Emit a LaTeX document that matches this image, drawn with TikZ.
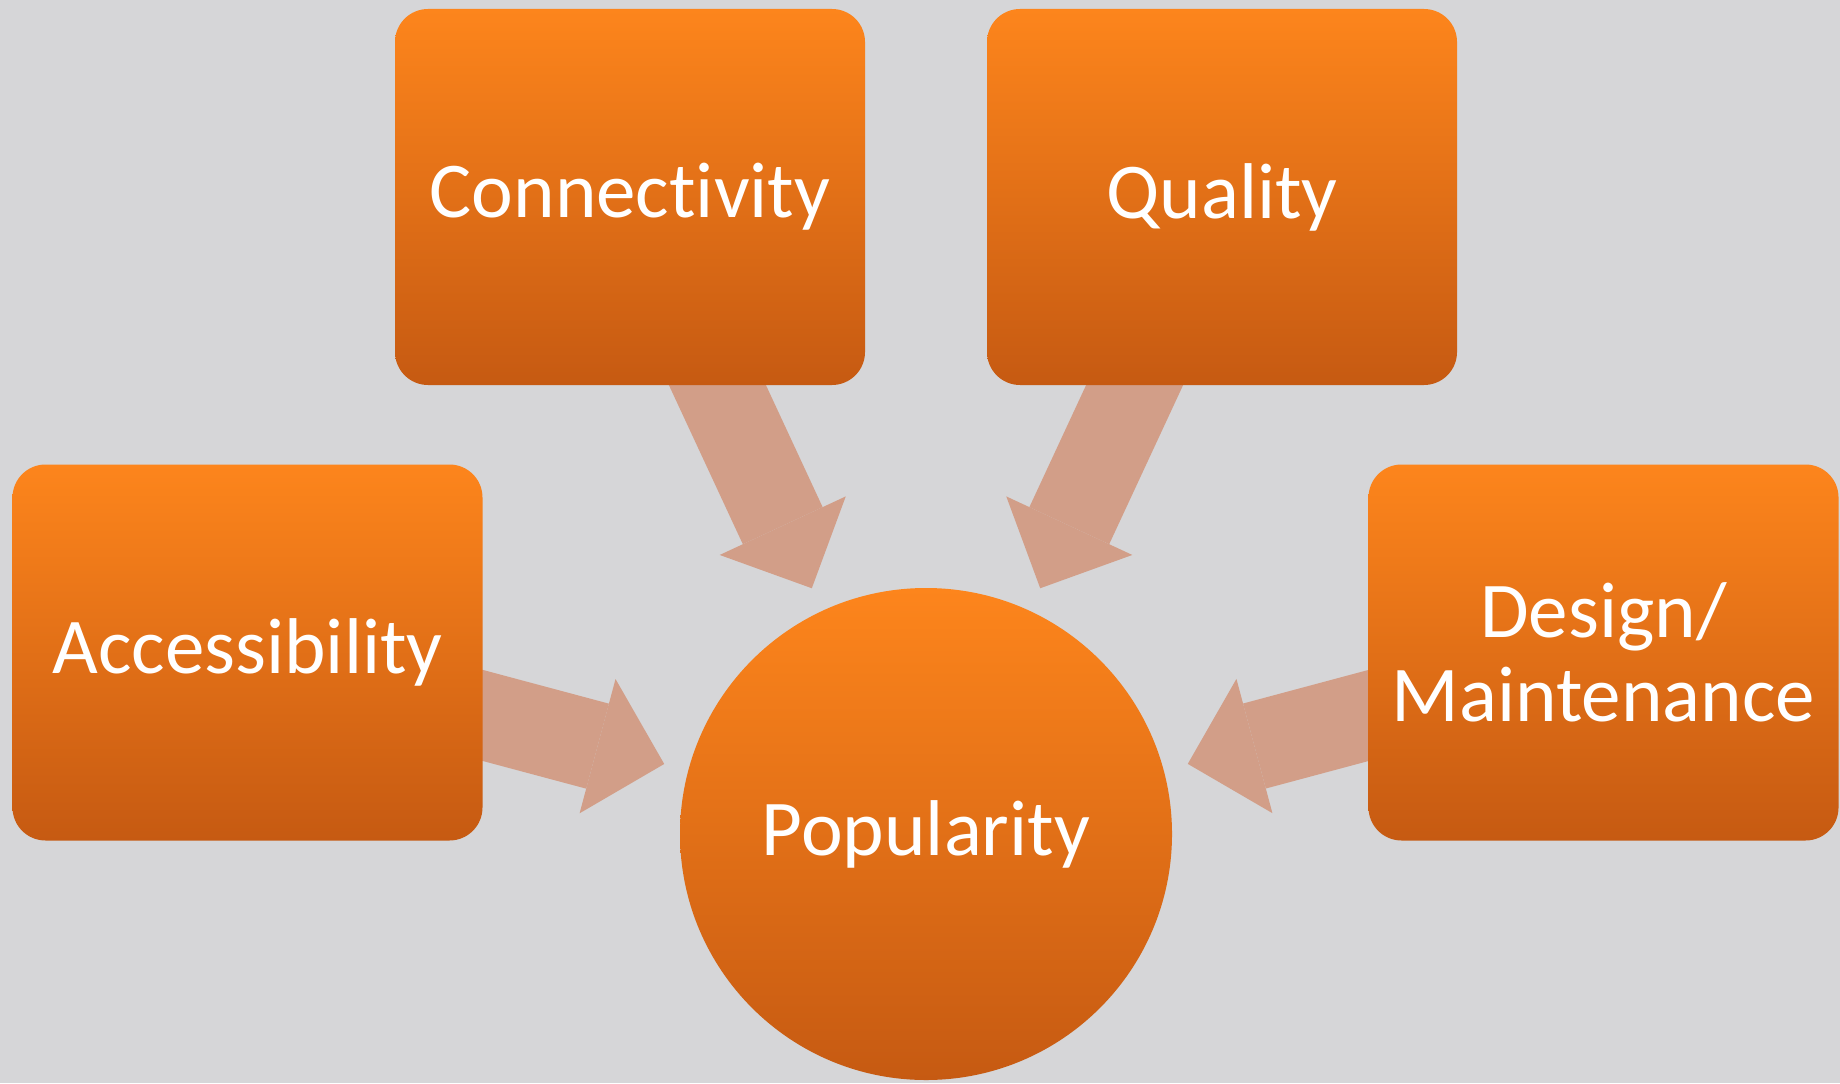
\documentclass[tikz,border=0pt]{standalone}
\usepackage{fontspec}
\setmainfont{Carlito}[Ligatures=NoCommon]
\usetikzlibrary{arrows.meta, backgrounds}
\definecolor{bggray}{RGB}{214,214,216}
\definecolor{orangetop}{RGB}{253,133,28}
\definecolor{orangebot}{RGB}{198,90,18}
\definecolor{arrowpink}{RGB}{210,158,136}
\def\frame{(0,0) rectangle (18.4,-10.83)}

\begin{document}
\begin{tikzpicture}[
	factor/.style={rounded corners=3.3mm, top color=orangetop, bottom color=orangebot,
		minimum width=4.7cm, minimum height=3.76cm, inner sep=0pt, text=white,
		align=center, font=\fontsize{22.5}{24}\selectfont},
	hub/.style={circle, top color=orangetop, bottom color=orangebot,
		minimum size=4.92cm, inner sep=0pt, text=white, font=\fontsize{22.5}{24}\selectfont},
	push/.style={draw=arrowpink, line width=8.8mm, shorten >=27.1mm,
		-{Triangle[length=6.9mm, width=13.9mm, line width=0pt]}}]
	\useasboundingbox \frame;
	\node [hub] (pop) at (9.26, -8.34) {Popularity};
	\node [factor] (conn) at (6.30, -1.97) {Connectivity};
	\node [factor] (qual) at (12.22, -1.97) {Quality};
	\node [factor] (acc) at (2.475, -6.525) {Accessibility};
	\node [factor] (des) at (16.035, -6.525) {Design/\\Maintenance};
	\begin{pgfonlayer}{background}
		\fill [bggray] \frame;
		\draw [push] (conn.center) -- (pop.center);
		\draw [push] (qual.center) -- (pop.center);
		\draw [push] (acc.center) -- (pop.center);
		\draw [push] (des.center) -- (pop.center);
	\end{pgfonlayer}
\end{tikzpicture}
\end{document}
